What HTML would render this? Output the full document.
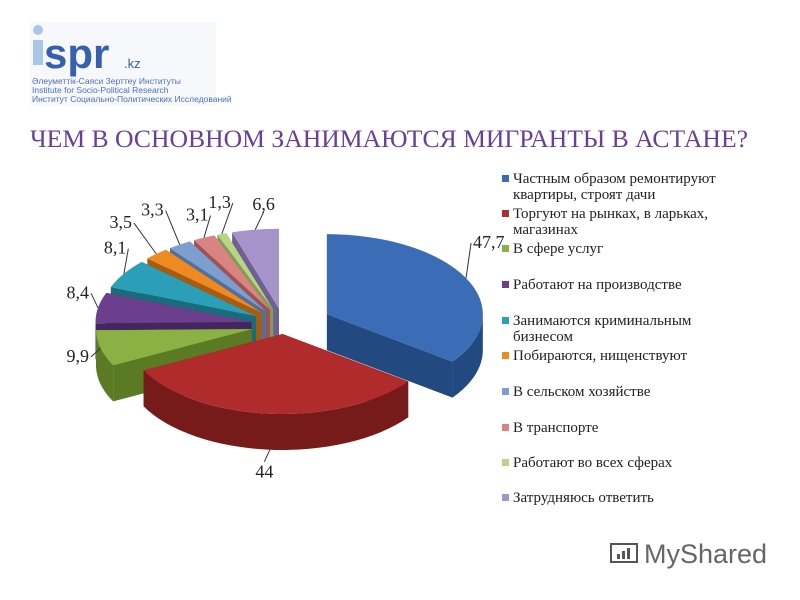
<!DOCTYPE html>
<html><head><meta charset="utf-8"><style>
body{margin:0;background:#fff}
svg{display:block}
text{font-family:"Liberation Serif","DejaVu Serif",serif}
</style></head><body>
<svg id="s" width="800" height="600" viewBox="0 0 800 600">
<g>
<rect x="30" y="22" width="186" height="84" fill="#f6f8fc"/>
<circle cx="38" cy="30" r="5" fill="#a9c6e6"/>
<rect x="33" y="40" width="10" height="25" fill="#a9c6e6"/>
<text x="44" y="68" font-weight="bold" font-size="42" fill="#3560b0" style="font-family:'Liberation Sans',sans-serif">spr</text>
<text x="124" y="68" font-size="13" fill="#3560b0" style="font-family:'Liberation Sans',sans-serif">.kz</text>
<text x="32" y="84" font-size="8.5" fill="#4a70b8" style="font-family:'Liberation Sans',sans-serif">Әлеуметтік-Саяси Зерттеу Институты</text>
<text x="32" y="93" font-size="8.5" fill="#4a70b8" style="font-family:'Liberation Sans',sans-serif">Institute for Socio-Political Research</text>
<text x="32" y="102" font-size="8.5" fill="#4a70b8" style="font-family:'Liberation Sans',sans-serif">Институт Социально-Политических Исследований</text>
</g>
<text x="30" y="147" font-size="25" fill="#6a3f9a" textLength="718" lengthAdjust="spacingAndGlyphs">ЧЕМ В ОСНОВНОМ ЗАНИМАЮТСЯ МИГРАНТЫ В АСТАНЕ?</text>
<g id="pie"></g>
<g id="labels"></g>
<g id="legend"></g>
<g>
<rect x="611" y="544" width="26" height="18" fill="none" stroke="#555" stroke-width="2"/>
<rect x="617" y="554" width="3" height="5" fill="#555"/><rect x="622" y="551" width="3" height="8" fill="#555"/><rect x="627" y="548" width="3" height="11" fill="#555"/>
<text x="644" y="563" font-size="27" fill="#666" style="font-family:'Liberation Sans',sans-serif">MyShared</text>
</g>
</svg>
<script>
const categories=["Частным образом ремонтируют квартиры, строят дачи","Торгуют на рынках, в ларьках, магазинах","В сфере услуг","Работают на производстве","Занимаются криминальным бизнесом","Побираются, нищенствуют","В сельском хозяйстве","В транспорте","Работают во всех сферах","Затрудняюсь ответить"];
const values=[47.7,44,9.9,8.4,8.1,3.5,3.3,3.1,1.3,6.6];
const valueLabels=["47,7","44","9,9","8,4","8,1","3,5","3,3","3,1","1,3","6,6"];
const legendLines=[["Частным образом ремонтируют","квартиры, строят дачи"],["Торгуют на рынках, в ларьках,","магазинах"],["В сфере услуг"],["Работают на производстве"],["Занимаются криминальным","бизнесом"],["Побираются, нищенствуют"],["В сельском хозяйстве"],["В транспорте"],["Работают во всех сферах"],["Затрудняюсь ответить"]];
const topCol=["#3a6db5","#b02c2c","#8bb043","#6b3f8e","#2a9fb7","#ef8a22","#7d9fd0","#d98383","#b7d585","#a593ca"];
const sideCol=["#234a80","#771a1a","#5b7a24","#432660","#1a6b7b","#a85c10","#50709e","#9e5252","#829c55","#6e5f95"];
const NS="http://www.w3.org/2000/svg";
const cx=284,cy=325,rx=156,ry=80,depth=36;
const total=values.reduce((a,b)=>a+b,0);
const pie=document.getElementById('pie');
function pt(c,t){const r=t*Math.PI/180;return [c[0]+rx*Math.sin(r),c[1]-ry*Math.cos(r)];}
function mk(tag,attrs){const e=document.createElementNS(NS,tag);for(const k in attrs)e.setAttribute(k,attrs[k]);return e;}
let acc=0;const slices=[];
values.forEach((v,i)=>{const a0=acc/total*360;acc+=v;const a1=acc/total*360;const m=(a0+a1)/2;
 const d=i===0?48:(i===1?18:33);const r=m*Math.PI/180;
 const c=[cx+d*Math.sin(r),cy-d*Math.cos(r)*0.5];slices.push({i,a0,a1,m,c});});
slices.slice().sort((a,b)=>Math.cos(b.m*Math.PI/180)-Math.cos(a.m*Math.PI/180)).forEach(s=>{
 const g=mk('g',{});
 
 
 const c=s.c,p0=pt(c,s.a0),p1=pt(c,s.a1);
 [p0,p1].forEach(p=>{g.appendChild(mk('path',{d:`M${c[0]},${c[1]}L${p[0]},${p[1]}L${p[0]},${p[1]+depth}L${c[0]},${c[1]+depth}Z`,fill:sideCol[s.i]}));});
 const st=Math.max(s.a0,90),en=Math.min(s.a1,270);
 if(en>st){const A=pt(c,st),B=pt(c,en);const lg=(en-st)>180?1:0;
  g.appendChild(mk('path',{d:`M${A[0]},${A[1]}A${rx},${ry} 0 ${lg} 1 ${B[0]},${B[1]}L${B[0]},${B[1]+depth}A${rx},${ry} 0 ${lg} 0 ${A[0]},${A[1]+depth}Z`,fill:sideCol[s.i]}));}
 const lg=(s.a1-s.a0)>180?1:0;
 g.appendChild(mk('path',{d:`M${c[0]},${c[1]}L${p0[0]},${p0[1]}A${rx},${ry} 0 ${lg} 1 ${p1[0]},${p1[1]}Z`,fill:topCol[s.i]}));
 pie.appendChild(g);});
// labels
const lab=document.getElementById('labels');
const labOff=[[5,-35,'start'],[-5.6,12,'below'],[-9.6,8.6,'end'],[-7,-14.5,'end'],[4.4,-25,'end'],[-22.3,-30.8,'end'],[-14,-34,'end'],[6.5,-22,'end'],[11,-30.8,'end'],[8.4,-17.7,'above']];
slices.forEach(s=>{const p=pt(s.c,s.m);const e=s.i===1?[p[0],p[1]+depth]:p;
 const o=labOff[s.i];const L=[e[0]+o[0],e[1]+o[1]];
 const ln=mk('line',{x1:e[0],y1:e[1],x2:L[0],y2:L[1],stroke:'#333','stroke-width':1});
 
 
 lab.appendChild(ln);
 let tx;
 if(o[2]==='end')tx=mk('text',{x:L[0]-2,y:L[1]+5,'text-anchor':'end'});
 else if(o[2]==='start')tx=mk('text',{x:L[0]+2,y:L[1]+5,'text-anchor':'start'});
 else if(o[2]==='below')tx=mk('text',{x:L[0],y:L[1]+16,'text-anchor':'middle'});
 else tx=mk('text',{x:L[0],y:L[1]-2,'text-anchor':'middle'});
 tx.setAttribute('font-size','18');tx.setAttribute('fill','#222');
 tx.textContent=valueLabels[s.i];
 
 
 lab.appendChild(tx);});
// legend
const leg=document.getElementById('legend');
const rowY=[183,218,253,289,325,360,396,432,467,502];
legendLines.forEach((lines,i)=>{const g=mk('g',{});
 
 
 g.appendChild(mk('rect',{x:502,y:rowY[i]-8,width:7,height:7,fill:topCol[i]}));
 lines.forEach((l,j)=>{const t=mk('text',{x:513,y:rowY[i]+j*16,'font-size':15,fill:'#222'});t.textContent=l;g.appendChild(t);});
 leg.appendChild(g);});
</script>
</body></html>
